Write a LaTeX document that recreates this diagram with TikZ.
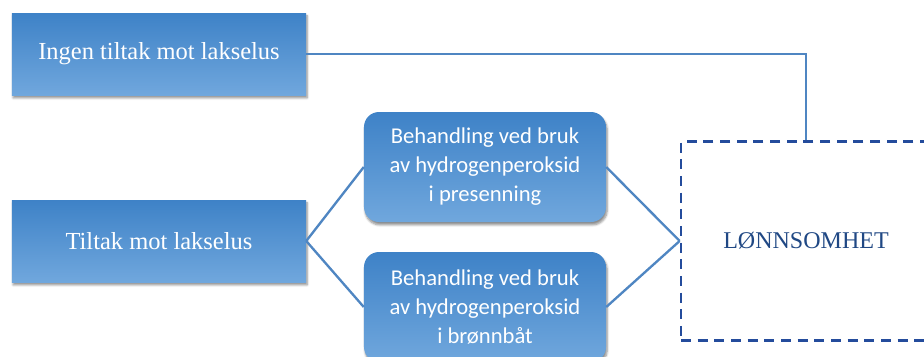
\documentclass[tikz,border=0pt]{standalone}
\usepackage{fontspec}
\setmainfont{Liberation Serif}
\newfontfamily\calibri{Carlito}
\usetikzlibrary{shadows.blur}
\definecolor{boxtop}{RGB}{62,130,199}
\definecolor{boxbot}{RGB}{112,167,221}
\definecolor{linkblue}{RGB}{79,134,194}
\definecolor{dashblue}{RGB}{36,76,156}
\definecolor{textblue}{RGB}{32,72,132}
\begin{document}
\begin{tikzpicture}[x=0.03cm, y=-0.03cm,
  plain/.style={top color=boxtop, bottom color=boxbot, draw=none, text=white,
    minimum width=8.82cm, minimum height=2.46cm, align=center,
    font=\fontsize{20.9pt}{25pt}\selectfont,
    blur shadow={shadow xshift=1pt, shadow yshift=-2.5pt, shadow blur steps=6, shadow opacity=45}},
  treat/.style={plain, rounded corners=0.45cm, minimum width=7.26cm, minimum height=3.3cm,
    font=\calibri\fontsize{19.3pt}{24.7pt}\selectfont},
  result/.style={draw=dashblue, line width=2.3pt, dash pattern=on 0.3cm off 0.2cm,
    minimum width=7.5cm, minimum height=5.97cm, text=textblue,
    font=\fontsize{20.5pt}{25pt}\selectfont},
  link/.style={draw=linkblue, line width=2pt}]
  \useasboundingbox (0,0) rectangle (924,356);
  \clip (0,0) rectangle (924,356);
  \node[plain] (ingen) at (159,54) {Ingen tiltak mot lakselus};
  \node[plain] (tiltak) at (159,241) {Tiltak mot lakselus};
  \node[treat] (pres) at (485,167) {Behandling ved bruk\\av hydrogenperoksid\\i presenning};
  \node[treat] (bronn) at (485,307) {Behandling ved bruk\\av hydrogenperoksid\\i brønnbåt};
  \node[result] (lonn) at (806,241) {LØNNSOMHET};
  \draw[link] (ingen.east) -| (lonn.north);
  \draw[link] (tiltak.east) -- (pres.west);
  \draw[link] (tiltak.east) -- (bronn.west);
  \draw[link] (pres.east) -- (lonn.west);
  \draw[link] (bronn.east) -- (lonn.west);
\end{tikzpicture}
\end{document}
